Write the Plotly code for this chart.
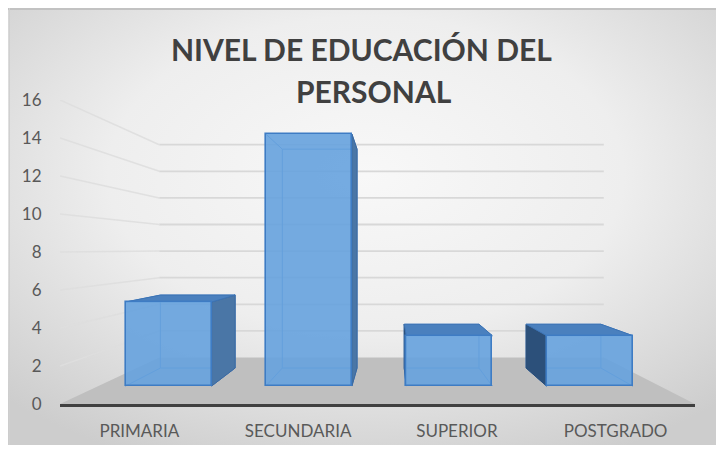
import base64
import plotly.graph_objects as go

# ---------------- data ----------------
categories = ["PRIMARIA", "SECUNDARIA", "SUPERIOR", "POSTGRADO"]
values = [5, 15, 3, 3]
y_ticks = [0, 2, 4, 6, 8, 10, 12, 14, 16]
title_lines = ["NIVEL DE EDUCACIÓN DEL", "PERSONAL"]

# ---------------- perspective set-up (styling) ----------------
# figure sits inside the page's 8px body margin
W, H = 716, 446
ML, MR, MT, MB = 52, 29, 92, 50
X_RANGE = [-0.5, 3.5]
Y_RANGE = [0, 16]
VX, VY = 1.585, 8.158          # vanishing point in main-axis units
S_FRONT, S_BACK, S_WALL = 0.884, 0.768, 0.70
BAR_W = 0.613


def proj(x, y, s):
    return VX + s * (x - VX), VY + s * (y - VY)


def inv_range(r, v, s):
    return [v + (r[0] - v) / s, v + (r[1] - v) / s]


fig = go.Figure()

# floor
fx, fy = [], []
for (x, s) in [(X_RANGE[0], 1), (X_RANGE[1], 1), (X_RANGE[1], S_WALL), (X_RANGE[0], S_WALL)]:
    px, py = proj(x, 0, s)
    fx.append(px); fy.append(py)
fig.add_trace(go.Scatter(x=fx, y=fy, fill="toself", mode="none",
                         fillcolor="rgb(191,191,191)", hoverinfo="skip"))

# back wall and left wall gridlines
gx, gy, lx, ly = [], [], [], []
for t in y_ticks[1:]:
    a = proj(X_RANGE[0], t, S_WALL)
    b = proj(X_RANGE[1], t, S_WALL)
    gx += [a[0], b[0], None]; gy += [a[1], b[1], None]
    c = proj(X_RANGE[0], t, 1)
    lx += [c[0], a[0], None]; ly += [c[1], a[1], None]
fig.add_trace(go.Scatter(x=gx, y=gy, mode="lines", line=dict(color="rgb(216,216,216)", width=1.8),
                         hoverinfo="skip"))
fig.add_trace(go.Scatter(x=lx, y=ly, mode="lines", line=dict(color="rgba(222,222,222,0.9)", width=1.5),
                         hoverinfo="skip"))

# 3D decorations of each bar (computed from the values)
edge_x, edge_y = [], []
top_x, top_y = [], []
rs_x, rs_y = [], []
ls_x, ls_y = [], []
for i, v in enumerate(values):
    xl, xr = i - BAR_W / 2, i + BAR_W / 2
    pts = [proj(xl, 0, S_BACK), proj(xr, 0, S_BACK), proj(xr, v, S_BACK), proj(xl, v, S_BACK), proj(xl, 0, S_BACK)]
    edge_x += [p[0] for p in pts] + [None]; edge_y += [p[1] for p in pts] + [None]
    for (x, y) in [(xl, 0), (xr, 0), (xr, v), (xl, v)]:
        a, b = proj(x, y, S_FRONT), proj(x, y, S_BACK)
        edge_x += [a[0], b[0], None]; edge_y += [a[1], b[1], None]
    if v < VY:
        pts = [proj(xl, v, S_FRONT), proj(xr, v, S_FRONT), proj(xr, v, S_BACK), proj(xl, v, S_BACK), proj(xl, v, S_FRONT)]
        top_x += [p[0] for p in pts] + [None]; top_y += [p[1] for p in pts] + [None]
    if xr < VX:
        pts = [proj(xr, 0, S_FRONT), proj(xr, v, S_FRONT), proj(xr, v, S_BACK), proj(xr, 0, S_BACK), proj(xr, 0, S_FRONT)]
        rs_x += [p[0] for p in pts] + [None]; rs_y += [p[1] for p in pts] + [None]
    if xl > VX:
        pts = [proj(xl, 0, S_FRONT), proj(xl, v, S_FRONT), proj(xl, v, S_BACK), proj(xl, 0, S_BACK), proj(xl, 0, S_FRONT)]
        ls_x += [p[0] for p in pts] + [None]; ls_y += [p[1] for p in pts] + [None]

fig.add_trace(go.Scatter(x=edge_x, y=edge_y, mode="lines", line=dict(color="rgb(70,130,200)", width=1),
                         hoverinfo="skip"))
fig.add_trace(go.Scatter(x=rs_x, y=rs_y, mode="lines", fill="toself", fillcolor="rgb(74,118,166)",
                         line=dict(color="rgb(60,105,160)", width=1), hoverinfo="skip"))
fig.add_trace(go.Scatter(x=ls_x, y=ls_y, mode="lines", fill="toself", fillcolor="rgb(44,80,122)",
                         line=dict(color="rgb(40,75,118)", width=1), hoverinfo="skip"))
fig.add_trace(go.Scatter(x=top_x, y=top_y, mode="lines", fill="toself", fillcolor="rgb(74,128,190)",
                         line=dict(color="rgb(60,115,180)", width=1), hoverinfo="skip"))

# front faces: real bars on the bar-plane axes
fig.add_trace(go.Bar(x=list(range(len(categories))), y=values, width=BAR_W,
                     xaxis="x3", yaxis="y2",
                     marker=dict(color="rgba(102,162,222,0.9)",
                                 line=dict(color="rgb(62,124,196)", width=1.6)),
                     hovertext=categories, hoverinfo="text+y"))

# background (gradient panel)
svg = ('<svg xmlns="http://www.w3.org/2000/svg" width="716" height="437" viewBox="0 0 716 437" '
       'preserveAspectRatio="none"><defs><radialGradient id="g" cx="0.5" cy="0.38" r="0.72">'
       '<stop offset="0" stop-color="#f8f8f8"/><stop offset="0.5" stop-color="#eeeeee"/>'
       '<stop offset="1" stop-color="#cdcdcd"/></radialGradient></defs>'
       '<rect width="716" height="437" fill="url(#g)"/>'
       '<line x1="0" y1="1" x2="716" y2="1" stroke="#c2c2c2" stroke-width="2"/>'
       '<line x1="1.5" y1="0" x2="1.5" y2="437" stroke="#d0d0d0" stroke-width="1"/></svg>')
src = "data:image/svg+xml;base64," + base64.b64encode(svg.encode()).decode()
pw, ph = W - ML - MR, H - MT - MB
fig.add_layout_image(dict(source=src, xref="paper", yref="paper",
                          x=(0 - ML) / pw, y=(H - MB - 0) / ph,
                          sizex=716 / pw, sizey=437 / ph,
                          xanchor="left", yanchor="top", sizing="stretch", layer="below"))

# title as two lines (figure pixel positions)
title_pos = [(353, 41), (366, 83)]
for txt, (px, py) in zip(title_lines, title_pos):
    fig.add_annotation(text=txt, xref="paper", yref="paper",
                       x=(px - ML) / pw, y=(H - MB - py) / ph,
                       xanchor="center", yanchor="middle", showarrow=False,
                       font=dict(family="Lato", size=30, color="#404040", weight=700))

fig.update_layout(
    width=W, height=H, template="none",
    margin=dict(l=ML, r=MR, t=MT, b=MB, autoexpand=False),
    paper_bgcolor="white", plot_bgcolor="rgba(0,0,0,0)",
    showlegend=False, bargap=0,
    font=dict(family="Lato", color="#595959", size=17),
    xaxis=dict(range=X_RANGE, tickvals=list(range(len(categories))), ticktext=categories,
               showgrid=False, zeroline=False, showline=True, linecolor="#404040", linewidth=3,
               ticks="outside", ticklen=10, tickcolor="rgba(0,0,0,0)",
               tickfont=dict(family="Lato", size=17, color="#595959")),
    yaxis=dict(range=Y_RANGE, tickvals=y_ticks, showgrid=False, zeroline=False, showline=False,
               ticks="outside", ticklen=14, tickcolor="rgba(0,0,0,0)",
               tickfont=dict(family="Lato", size=17, color="#595959")),
    xaxis3=dict(range=inv_range(X_RANGE, VX, S_FRONT), overlaying="x", visible=False),
    yaxis2=dict(range=inv_range(Y_RANGE, VY, S_FRONT), overlaying="y", visible=False),
)

fig.write_html("out.html")
